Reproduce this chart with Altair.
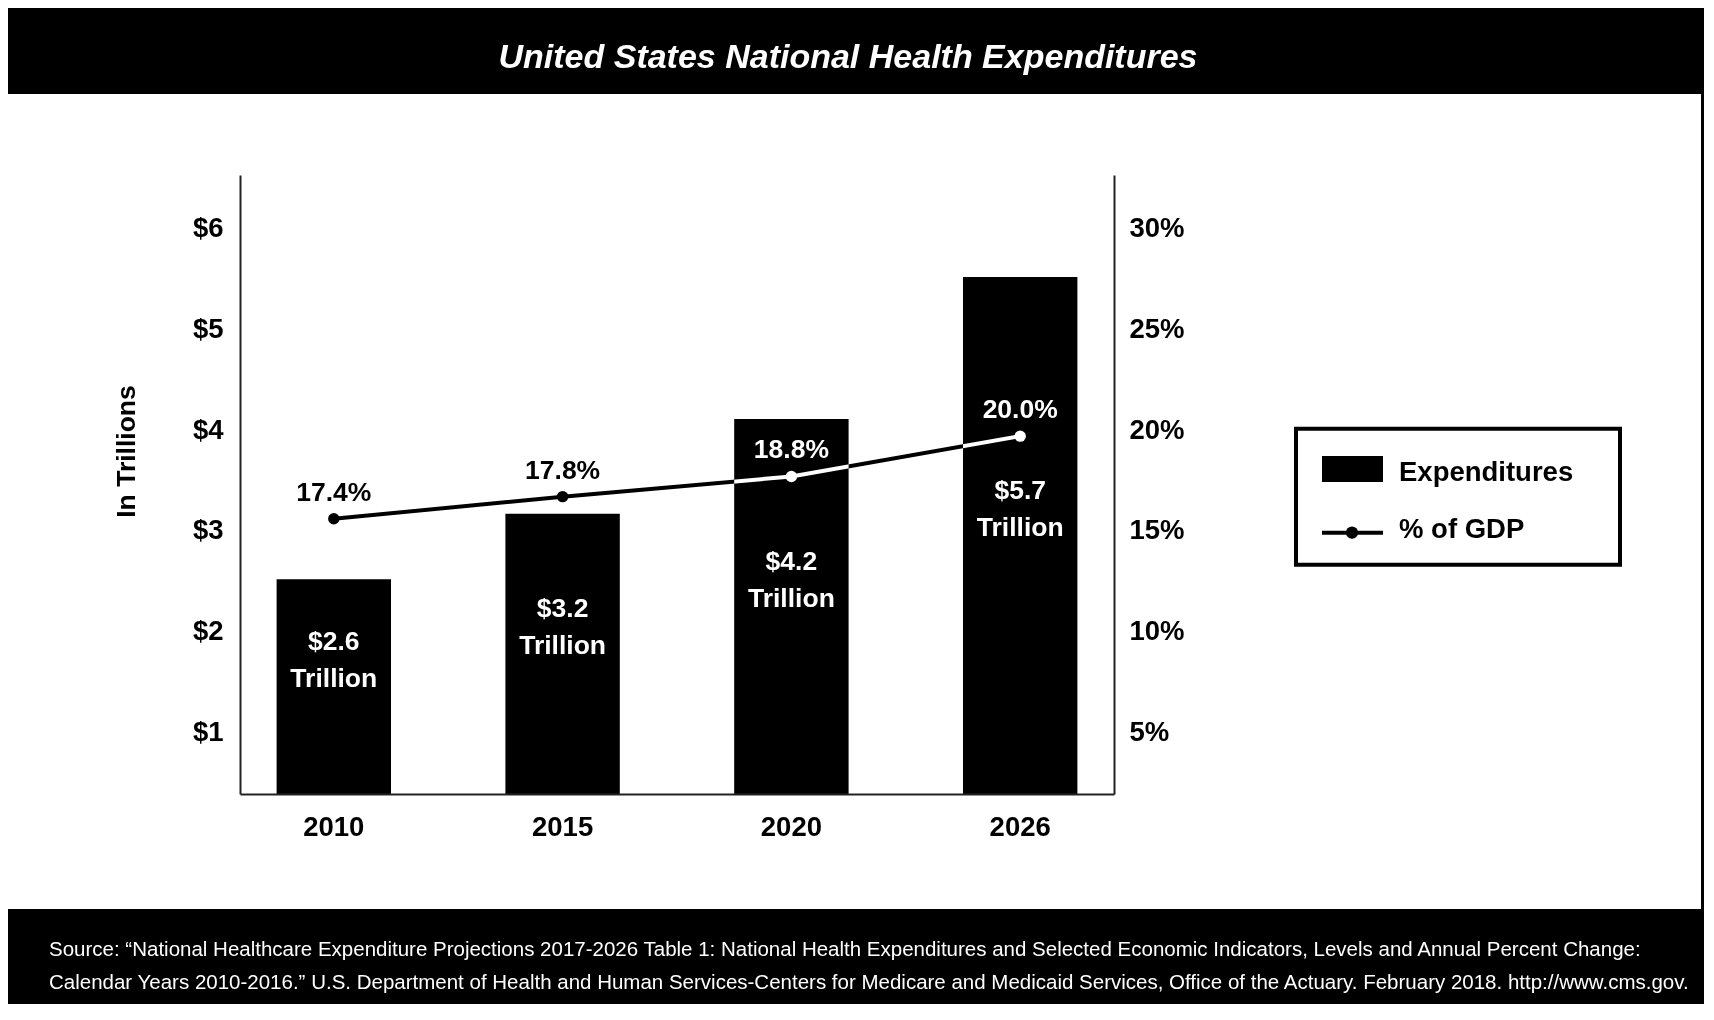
import altair as alt
import pandas as pd

# ---- data ----
years = ["2010", "2015", "2020", "2026"]
spending = [2.52, 3.17, 4.11, 5.52]            # bar heights on left axis ($ trillions)
spending_labels = ["$2.6", "$3.2", "$4.2", "$5.7"]
gdp_share = [15.6, 16.7, 17.7, 19.7]           # line points on right axis (%)
gdp_labels = ["17.4%", "17.8%", "18.8%", "20.0%"]
left_ticks = [1, 2, 3, 4, 5, 6]
right_ticks = [5, 10, 15, 20, 25, 30]
title_text = "United States National Health Expenditures"
y_title = "In Trillions"
legend_labels = ["Expenditures", "% of GDP"]
source_lines = [
    "Source: \u201cNational Healthcare Expenditure Projections 2017-2026 Table 1: National Health Expenditures and Selected Economic Indicators, Levels and Annual Percent Change:",
    "Calendar Years 2010-2016.\u201d U.S. Department of Health and Human Services-Centers for Medicare and Medicaid Services, Office of the Actuary. February 2018. http://www.cms.gov.",
]

FONT = "'Liberation Sans', Arial, sans-serif"
W, H = 874, 619
LEFT_DOMAIN = [0.39, 6.531]
RIGHT_DOMAIN = [v * 5 for v in LEFT_DOMAIN]

df = pd.DataFrame({
    "year": years,
    "spend": spending,
    "spend_label": [s + "\nTrillion" for s in spending_labels],
    "gdp": gdp_share,
    "gdp_label": gdp_labels,
})

base = alt.Chart(df).transform_calculate(
    inside="datum.gdp / 5 < datum.spend",
    label_y="datum.spend * 0.5 + 0.56",
)

x_enc = alt.X(
    "year:N", sort=years,
    scale=alt.Scale(paddingInner=0.5, paddingOuter=0.16),
    axis=alt.Axis(title=None, labelAngle=0, ticks=False, domainColor="#222",
                  domainWidth=2, labelFont=FONT, labelFontSize=27.5,
                  labelFontWeight="bold", labelColor="black", labelPadding=19,
                  zindex=1),
)


def lscale():
    return alt.Scale(domain=LEFT_DOMAIN)


def rscale():
    return alt.Scale(domain=RIGHT_DOMAIN)


bars = base.mark_bar(color="black").encode(
    x=x_enc,
    y=alt.Y("spend:Q", scale=lscale(), stack=None,
            axis=alt.Axis(orient="left", values=left_ticks, labelExpr="'$' + datum.value",
                          title=None, ticks=False, grid=False, domainColor="#222",
                          domainWidth=2, labelFont=FONT, labelFontSize=27.5,
                          labelFontWeight="bold", labelColor="black", labelPadding=17,
                          zindex=1)),
)

bar_text = base.mark_text(
    color="white", font=FONT, fontSize=26.5, fontWeight="bold",
    lineBreak="\n", lineHeight=37, baseline="alphabetic", align="center",
).encode(
    x=x_enc,
    y=alt.Y("label_y:Q", scale=lscale(), axis=None),
    text="spend_label:N",
)

line = base.mark_line(color="white", strokeWidth=4, blend="difference").encode(
    x=x_enc,
    y=alt.Y("gdp:Q", scale=rscale(),
            axis=alt.Axis(orient="right", values=right_ticks, labelExpr="datum.value + '%'",
                          title=None, ticks=False, grid=False, domainColor="#222",
                          domainWidth=2, labelFont=FONT, labelFontSize=27.5,
                          labelFontWeight="bold", labelColor="black", labelPadding=15,
                          zindex=1)),
)

pts = base.mark_point(filled=True, size=130, opacity=1).encode(
    x=x_enc,
    y=alt.Y("gdp:Q", scale=rscale(), axis=None),
    color=alt.condition("datum.inside", alt.value("white"), alt.value("black")),
)

pct_text = base.mark_text(
    font=FONT, fontSize=26.5, fontWeight="bold", baseline="alphabetic",
    align="center", dy=-18,
).encode(
    x=x_enc,
    y=alt.Y("gdp:Q", scale=rscale(), axis=None),
    text="gdp_label:N",
    color=alt.condition("datum.inside", alt.value("white"), alt.value("black")),
)

# ---- decoration (frame, title, source, legend) ----
one = alt.Data(values=[{}])

panel = alt.Chart(one).mark_rect(color="white").encode(
    x=alt.value(-232), x2=alt.value(1461), y=alt.value(-81), y2=alt.value(734))

title = alt.Chart(one).mark_text(
    text=title_text, color="white", font=FONT, fontSize=34, fontWeight="bold",
    fontStyle="italic", align="center", baseline="alphabetic",
).encode(x=alt.value(608), y=alt.value(-107))

source = alt.Chart(one).mark_text(
    text=source_lines, color="white", font=FONT, fontSize=20.5, align="left",
    baseline="alphabetic", lineHeight=33,
).encode(x=alt.value(-191), y=alt.value(781))

ytitle = alt.Chart(one).mark_text(
    text=y_title, color="black", font=FONT, fontSize=26.5, fontWeight="bold",
    angle=270, align="center", baseline="middle",
).encode(x=alt.value(-113), y=alt.value(276.5))

leg_box = alt.Chart(one).mark_rect(filled=False, stroke="black", strokeWidth=4).encode(
    x=alt.value(1056), x2=alt.value(1380), y=alt.value(253.7), y2=alt.value(389.7))

leg_swatch = alt.Chart(one).mark_rect(color="black").encode(
    x=alt.value(1082), x2=alt.value(1143), y=alt.value(281), y2=alt.value(307))

leg_line = alt.Chart(one).mark_rule(color="black", strokeWidth=4).encode(
    x=alt.value(1082), x2=alt.value(1143), y=alt.value(357.7))

leg_dot = alt.Chart(one).mark_point(filled=True, color="black", size=150, opacity=1).encode(
    x=alt.value(1112), y=alt.value(357.7))

leg_t1 = alt.Chart(one).mark_text(
    text=legend_labels[0], color="black", font=FONT, fontSize=27.5, fontWeight="bold",
    align="left", baseline="alphabetic",
).encode(x=alt.value(1159), y=alt.value(306))

leg_t2 = alt.Chart(one).mark_text(
    text=legend_labels[1], color="black", font=FONT, fontSize=27.5, fontWeight="bold",
    align="left", baseline="alphabetic",
).encode(x=alt.value(1159), y=alt.value(363))

chart = alt.layer(
    panel, title, source, ytitle,
    leg_box, leg_swatch, leg_line, leg_dot, leg_t1, leg_t2,
    bars, bar_text, line, pts, pct_text,
).resolve_scale(y="independent").properties(
    width=W, height=H, background="black",
    padding={"left": 232, "top": 167, "right": 590, "bottom": 210},
    autosize=alt.AutoSizeParams(type="none"),
).configure_view(strokeWidth=0)

chart.save("out.html", embed_options={"renderer": "svg", "actions": False})
